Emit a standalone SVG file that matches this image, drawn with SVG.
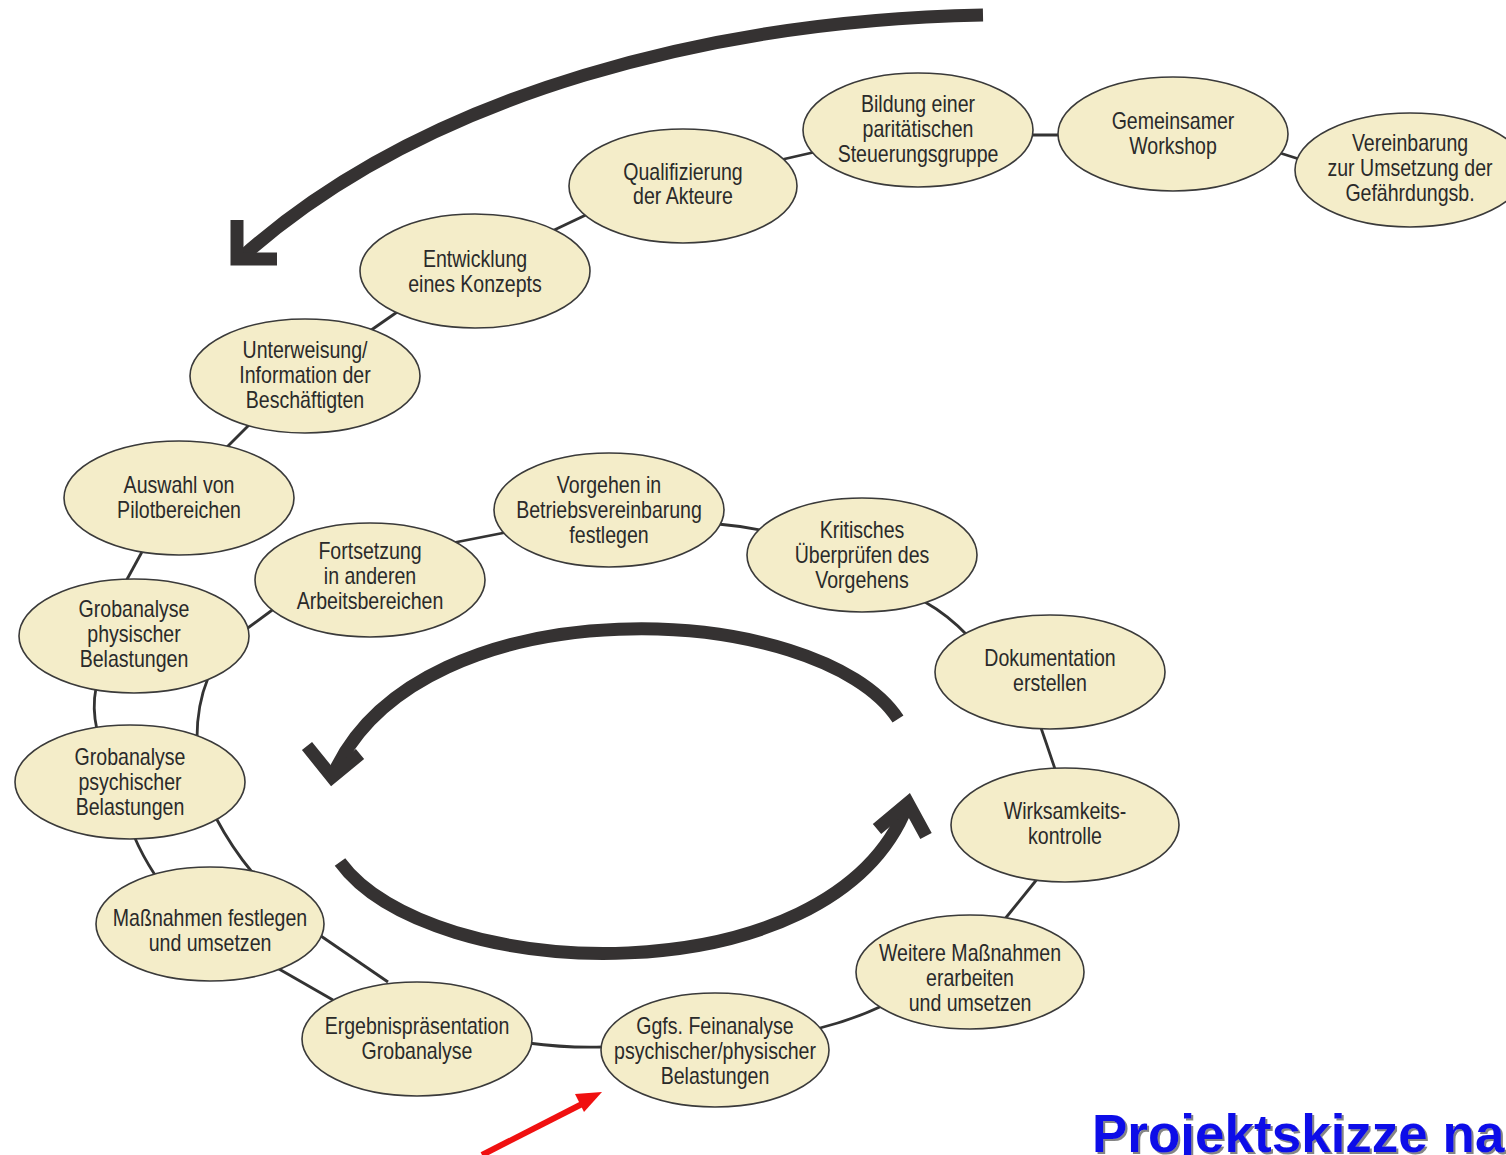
<svg xmlns="http://www.w3.org/2000/svg" width="1506" height="1155" viewBox="0 0 1506 1155">
<defs>
<style>
.n ellipse{fill:#f4edc9;stroke:#3a3a3a;stroke-width:1.6}
.n text{font-family:"Liberation Sans",Arial,sans-serif;font-size:23px;fill:#2a2a2a;text-anchor:middle}
.c{fill:none;stroke:#333;stroke-width:2.8}
.big{fill:none;stroke:#353232;stroke-width:13;stroke-linejoin:miter;stroke-miterlimit:10}
</style>
<filter id="sh" x="-5%" y="-20%" width="110%" height="140%">
<feDropShadow dx="2" dy="2" stdDeviation="0.6" flood-color="#777" flood-opacity="0.9"/>
</filter>
</defs>
<rect width="1506" height="1155" fill="#fff"/>
<g id="connectors">
<path class="c" d="M1280 153 L1302 160"/>
<path class="c" d="M1028 135 L1062 135"/>
<path class="c" d="M780 160 L815 152"/>
<path class="c" d="M550 232 L590 213"/>
<path class="c" d="M367 333 L400 310"/>
<path class="c" d="M224 450 L252 422"/>
<path class="c" d="M125 583 L143 550"/>
<path class="c" d="M96 688 Q92 708 97 730"/>
<path class="c" d="M208 678 Q197 705 197 738"/>
<path class="c" d="M245 630 L275 608"/>
<path class="c" d="M134 836 Q142 855 155 875"/>
<path class="c" d="M216 818 Q232 848 252 872"/>
<path class="c" d="M318 934 L388 982"/>
<path class="c" d="M272 965 L333 1000"/>
<path class="c" d="M528 1043 Q565 1048 603 1047"/>
<path class="c" d="M820 1028 Q852 1020 882 1006"/>
<path class="c" d="M1004 920 L1038 878"/>
<path class="c" d="M1040 725 Q1048 748 1056 772"/>
<path class="c" d="M925 602 Q948 615 968 636"/>
<path class="c" d="M718 524 Q742 526 766 531"/>
<path class="c" d="M452 543 L508 532"/>
</g>
<g id="arrows">
<path class="big" d="M983 15 C720 20 430 90 243 256"/>
<polyline class="big" points="237,220 237,259 277,259"/>
<path class="big" d="M898 719 C820 600 420 580 333 775"/>
<polyline class="big" points="307,746 332,777 360,754"/>
<path class="big" d="M340 862 C430 985 830 1000 907 806"/>
<polyline class="big" points="877,829 908,803 926,836"/>
<line x1="482" y1="1155" x2="584" y2="1103" stroke="#f01010" stroke-width="6"/>
<polygon points="602,1092 584,1112 575,1094" fill="#f01010"/>
</g>
<g id="n1" class="n" transform="translate(1410,170)"><ellipse rx="115" ry="57"/><text transform="scale(0.85,1)"><tspan x="0" y="-19">Vereinbarung</tspan><tspan x="0" y="6">zur Umsetzung der</tspan><tspan x="0" y="31">Gefährdungsb.</tspan></text></g>
<g id="n2" class="n" transform="translate(1173,134)"><ellipse rx="115" ry="57"/><text transform="scale(0.85,1)"><tspan x="0" y="-5">Gemeinsamer</tspan><tspan x="0" y="20">Workshop</tspan></text></g>
<g id="n3" class="n" transform="translate(918,130)"><ellipse rx="115" ry="57"/><text transform="scale(0.85,1)"><tspan x="0" y="-18">Bildung einer</tspan><tspan x="0" y="7">paritätischen</tspan><tspan x="0" y="32">Steuerungsgruppe</tspan></text></g>
<g id="n4" class="n" transform="translate(683,186)"><ellipse rx="114" ry="57"/><text transform="scale(0.85,1)"><tspan x="0" y="-6">Qualifizierung</tspan><tspan x="0" y="18">der Akteure</tspan></text></g>
<g id="n5" class="n" transform="translate(475,271)"><ellipse rx="115" ry="57"/><text transform="scale(0.85,1)"><tspan x="0" y="-4">Entwicklung</tspan><tspan x="0" y="21">eines Konzepts</tspan></text></g>
<g id="n6" class="n" transform="translate(305,376)"><ellipse rx="115" ry="57"/><text transform="scale(0.85,1)"><tspan x="0" y="-18">Unterweisung/</tspan><tspan x="0" y="7">Information der</tspan><tspan x="0" y="32">Beschäftigten</tspan></text></g>
<g id="n7" class="n" transform="translate(179,498)"><ellipse rx="115" ry="57"/><text transform="scale(0.85,1)"><tspan x="0" y="-5">Auswahl von</tspan><tspan x="0" y="20">Pilotbereichen</tspan></text></g>
<g id="n8" class="n" transform="translate(134,636)"><ellipse rx="115" ry="57"/><text transform="scale(0.85,1)"><tspan x="0" y="-19">Grobanalyse</tspan><tspan x="0" y="6">physischer</tspan><tspan x="0" y="31">Belastungen</tspan></text></g>
<g id="n9" class="n" transform="translate(130,782)"><ellipse rx="115" ry="57"/><text transform="scale(0.85,1)"><tspan x="0" y="-17">Grobanalyse</tspan><tspan x="0" y="8">psychischer</tspan><tspan x="0" y="33">Belastungen</tspan></text></g>
<g id="n10" class="n" transform="translate(210,924)"><ellipse rx="114" ry="57"/><text transform="scale(0.85,1)"><tspan x="0" y="2">Maßnahmen festlegen</tspan><tspan x="0" y="27">und umsetzen</tspan></text></g>
<g id="n11" class="n" transform="translate(417,1039)"><ellipse rx="115" ry="57"/><text transform="scale(0.85,1)"><tspan x="0" y="-5">Ergebnispräsentation</tspan><tspan x="0" y="20">Grobanalyse</tspan></text></g>
<g id="n12" class="n" transform="translate(715,1050)"><ellipse rx="114" ry="57"/><text transform="scale(0.85,1)"><tspan x="0" y="-16">Ggfs. Feinanalyse</tspan><tspan x="0" y="9">psychischer/physischer</tspan><tspan x="0" y="34">Belastungen</tspan></text></g>
<g id="n13" class="n" transform="translate(970,972)"><ellipse rx="114" ry="57"/><text transform="scale(0.85,1)"><tspan x="0" y="-11">Weitere Maßnahmen</tspan><tspan x="0" y="14">erarbeiten</tspan><tspan x="0" y="39">und umsetzen</tspan></text></g>
<g id="n14" class="n" transform="translate(1065,825)"><ellipse rx="114" ry="57"/><text transform="scale(0.85,1)"><tspan x="0" y="-6">Wirksamkeits-</tspan><tspan x="0" y="19">kontrolle</tspan></text></g>
<g id="n15" class="n" transform="translate(1050,672)"><ellipse rx="115" ry="57"/><text transform="scale(0.85,1)"><tspan x="0" y="-6">Dokumentation</tspan><tspan x="0" y="19">erstellen</tspan></text></g>
<g id="n16" class="n" transform="translate(862,555)"><ellipse rx="115" ry="57"/><text transform="scale(0.85,1)"><tspan x="0" y="-17">Kritisches</tspan><tspan x="0" y="8">Überprüfen des</tspan><tspan x="0" y="33">Vorgehens</tspan></text></g>
<g id="n17" class="n" transform="translate(609,510)"><ellipse rx="115" ry="57"/><text transform="scale(0.85,1)"><tspan x="0" y="-17">Vorgehen in</tspan><tspan x="0" y="8">Betriebsvereinbarung</tspan><tspan x="0" y="33">festlegen</tspan></text></g>
<g id="n18" class="n" transform="translate(370,580)"><ellipse rx="115" ry="57"/><text transform="scale(0.85,1)"><tspan x="0" y="-21">Fortsetzung</tspan><tspan x="0" y="4">in anderen</tspan><tspan x="0" y="29">Arbeitsbereichen</tspan></text></g>
<text x="1092" y="1152" filter="url(#sh)" style="font-family:'Liberation Sans',Arial,sans-serif;font-weight:bold;font-size:53px;fill:#0c0ce8">Projektskizze na</text>
</svg>
